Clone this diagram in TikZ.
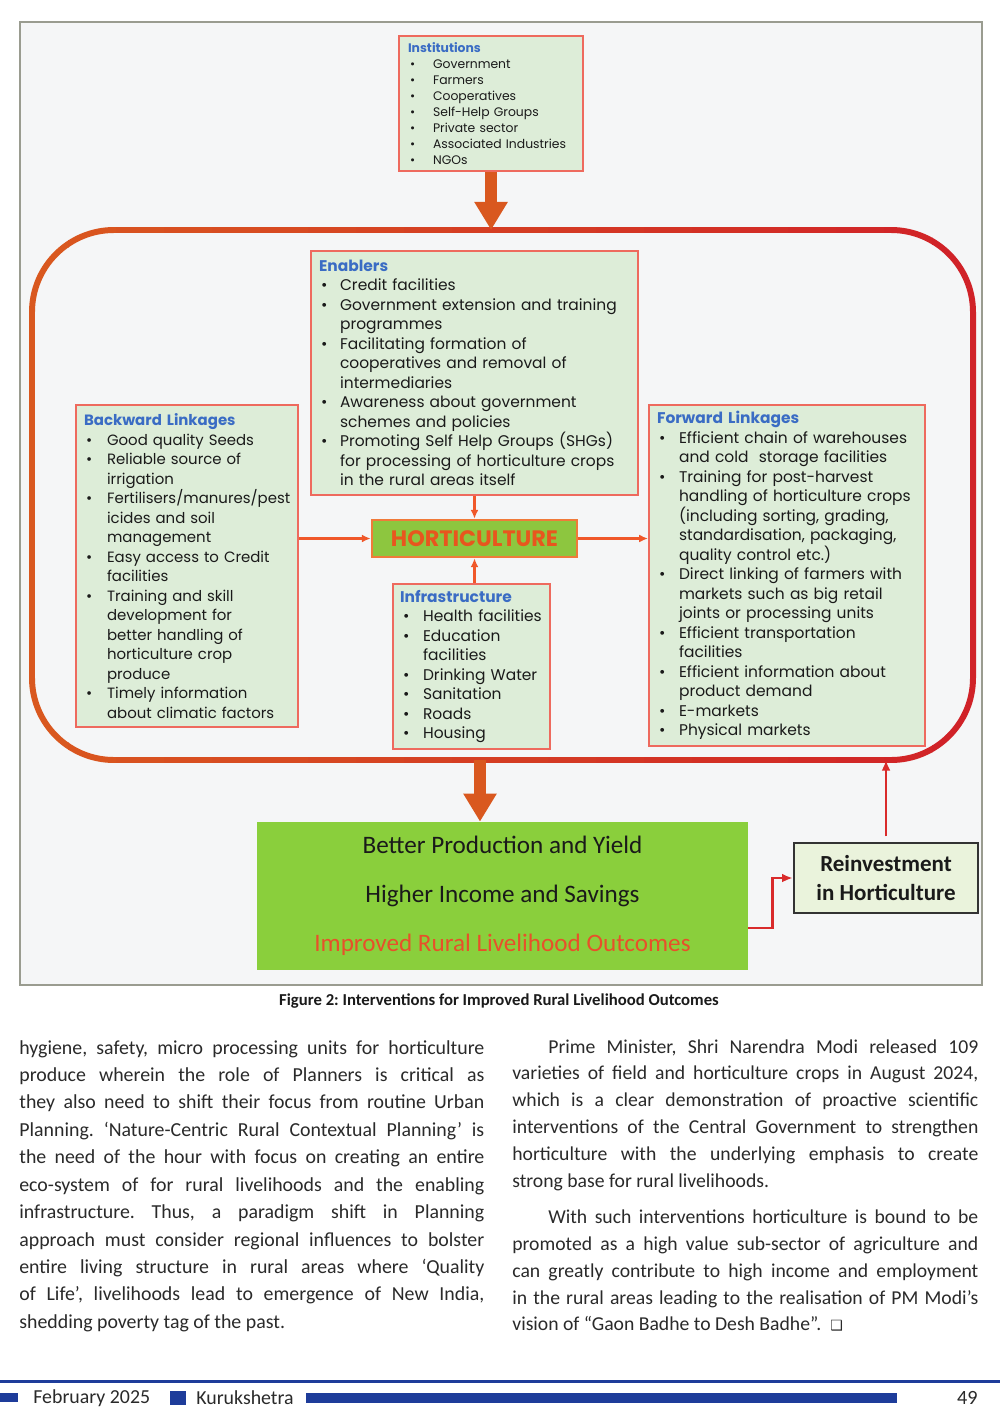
\documentclass[tikz,border=0pt]{standalone}
\usepackage{fontspec}
\setmainfont{Carlito}
\newfontfamily\gothic{Poppins}
\newfontfamily\symfont{DejaVu Sans}
\usetikzlibrary{arrows.meta, positioning}

\definecolor{boxfill}{HTML}{DDEDD8}
\definecolor{boxline}{HTML}{EE6A5E}
\definecolor{titleblue}{HTML}{3A6CC4}
\definecolor{ringorange}{HTML}{D9581F}
\definecolor{ringred}{HTML}{D01F28}
\definecolor{hortgreen}{HTML}{8DC63F}
\definecolor{hortline}{HTML}{F07A3A}
\definecolor{hortext}{HTML}{E8561E}
\definecolor{outgreen}{HTML}{8ACF3C}
\definecolor{outred}{HTML}{E8502A}
\definecolor{linkred}{HTML}{F0582A}
\definecolor{backred}{HTML}{D92B2B}
\definecolor{reinvfill}{HTML}{EAF3DC}
\definecolor{framefill}{HTML}{F5F6F7}
\definecolor{framegray}{HTML}{9A9C90}
\definecolor{footblue}{HTML}{1E3C9A}
\definecolor{textblack}{HTML}{1A1A1A}
\definecolor{textgray}{HTML}{2A2A2A}

\newlength\px
\setlength\px{0.2mm}
\newlength\itmhang
\newlength\itmbul
\newcommand\itm{\par\hangindent=\itmhang\hangafter=1\noindent\makebox[\itmhang][l]{\hspace{\itmbul}\textbullet}\ignorespaces}
\newcommand\boxtitle[1]{\textcolor{titleblue}{\bfseries #1}}

\begin{document}
\frenchspacing
\begin{tikzpicture}[x=0.2mm, y=-0.2mm,
    box/.style={draw=boxline, fill=boxfill, line width=1.2pt, anchor=north west, align=left,
        inner xsep=8\px, inner ysep=0pt, text=textblack,
        font=\gothic\fontsize{8.8}{11.1}\selectfont,
        execute at begin node={\setlength\itmhang{21\px}\setlength\itmbul{2\px}}},
    link/.style={-{Latex[length=5pt,width=4.5pt]}, draw=linkred, line width=1.3pt},
    backlink/.style={-{Latex[length=6pt,width=5pt]}, draw=backred, line width=1.4pt},
    fat/.style={-{Triangle[length=16pt,width=18pt]}, draw=ringorange, line width=6.8pt},
    body/.style={anchor=north west, inner sep=0, align=justify, text=textgray}
]

\useasboundingbox (0,0) rectangle (1000,1422);
\fill[white] (0,0) rectangle (1000,1422);
\draw[framegray, fill=framefill, line width=1.2pt] (20,22) rectangle (982,985);

% ring round the linkages
\node[minimum width=941\px, minimum height=530\px, inner sep=0, outer sep=0] (ring) at (502.5,495) {};
\foreach \i in {0,...,19}{
  \pgfmathtruncatemacro\mix{100-5*\i}
  \begin{scope}
    \clip (20+48*\i,200) rectangle (69+48*\i,800);
    \draw[draw=ringorange!\mix!ringred, line width=3.4pt, rounded corners=82\px]
      (ring.north west) rectangle (ring.south east);
  \end{scope}
}

\node[box, text width=166\px, inner xsep=9\px, minimum height=135\px,
  font=\gothic\fontsize{7.05}{9.1}\selectfont,
  execute at begin node={\setlength\itmhang{25\px}}] (inst) at (398,35)
{\boxtitle{Institutions}
 \itm Government
 \itm Farmers
 \itm Cooperatives
 \itm Self-Help Groups
 \itm Private sector
 \itm Associated Industries
 \itm NGOs\par};

\node[box, text width=311\px, minimum height=244\px] (enab) at (310,250)
{\boxtitle{Enablers}
 \itm Credit facilities
 \itm Government extension and training\newline programmes
 \itm Facilitating formation of\newline cooperatives and removal of\newline intermediaries
 \itm Awareness about government\newline schemes and policies
 \itm Promoting Self Help Groups (SHGs)\newline for processing of horticulture crops\newline in the rural areas itself\par};

\node[box, text width=206\px, minimum height=322\px,
  font=\gothic\fontsize{8.5}{11.1}\selectfont,
  execute at begin node={\setlength\itmhang{23\px}}] (back) at (75,404)
{\boxtitle{Backward Linkages}
 \itm Good quality Seeds
 \itm Reliable source of\newline irrigation
 \itm Fertilisers/manures/pest\newline icides and soil\newline management
 \itm Easy access to Credit\newline facilities
 \itm Training and skill\newline development for\newline better handling of\newline horticulture crop\newline produce
 \itm Timely information\newline about climatic factors\par};

\node[box, text width=260\px, minimum height=341\px,
  execute at begin node={\setlength\itmhang{22\px}}] (fwd) at (648,404)
{\boxtitle{Forward Linkages}
 \itm Efficient chain of warehouses\newline and cold\ \ storage facilities
 \itm Training for post-harvest\newline handling of horticulture crops\newline (including sorting, grading,\newline standardisation, packaging,\newline quality control etc.)
 \itm Direct linking of farmers with\newline markets such as big retail\newline joints or processing units
 \itm Efficient transportation\newline facilities
 \itm Efficient information about\newline product demand
 \itm E-markets
 \itm Physical markets\par};

\node[box, text width=143\px, inner xsep=7\px, minimum height=165\px,
  execute at begin node={\setlength\itmhang{23\px}\setlength\itmbul{3\px}}] (infra) at (392,583)
{\boxtitle{Infrastructure}
 \itm Health facilities
 \itm Education\newline facilities
 \itm Drinking Water
 \itm Sanitation
 \itm Roads
 \itm Housing\par};

\node[draw=hortline, fill=hortgreen, line width=1.5pt, minimum width=205\px, minimum height=37\px,
  inner sep=0, font=\gothic\bfseries\fontsize{12.7}{13}\selectfont, text=hortext] (hort) at (474.5,538.5) {HORTICULTURE};

\node[fill=outgreen, minimum width=491\px, minimum height=148\px, inner sep=0, align=center,
  font=\fontsize{14.3}{27.9}\selectfont, text=textblack] (out) at (502.5,896)
{Better Production and Yield\\Higher Income and Savings\\\textcolor{outred}{Improved Rural Livelihood Outcomes}};

\node[draw=black!80, fill=reinvfill, line width=1.5pt, minimum width=184\px, minimum height=70\px,
  align=center, font=\bfseries\fontsize{13.1}{17}\selectfont, text=textblack] (reinv) at (886,878)
{Reinvestment\\in Horticulture};

\draw[fat] (inst.south) -- (inst.south |- ring.north);
\draw[fat] (480,0 |- ring.south) -- (480,0 |- out.north);
\draw[link] (enab.south -| hort.north) -- (hort.north);
\draw[link] (infra.north -| hort.south) -- (hort.south);
\draw[link] (back.east |- hort.west) -- (hort.west);
\draw[link] (hort.east) -- (hort.east -| fwd.west);
\draw[backlink] (out.east |- 0,928) -- ++(24,0) |- (reinv.west);
\draw[backlink, shorten <=3pt] (reinv.north) -- (reinv.north |- ring.south);

\node[font=\bfseries\fontsize{9.5}{11}\selectfont, text=textblack] (caption) at (499,1001)
{Figure 2: Interventions for Improved Rural Livelihood Outcomes};

\node[body, text width=465\px, font=\fontsize{11.3}{15.6}\selectfont] (leftcol) at (19,1040)
{hygiene, safety, micro processing units for horticulture\linebreak
produce wherein the role of Planners is critical as\linebreak
they also need to shift their focus from routine Urban\linebreak
Planning. ‘Nature-Centric Rural Contextual Planning’ is\linebreak
the need of the hour with focus on creating an entire\linebreak
eco-system of for rural livelihoods and the enabling\linebreak
infrastructure. Thus, a paradigm shift in Planning\linebreak
approach must consider regional influences to bolster\linebreak
entire living structure in rural areas where ‘Quality\linebreak
of Life’, livelihoods lead to emergence of New India,\linebreak
shedding poverty tag of the past.};

\node[body, text width=466\px, font=\fontsize{11.2}{15.3}\selectfont] (rightcol) at (512,1039)
{\hspace*{36\px}Prime Minister, Shri Narendra Modi released 109\linebreak
varieties of field and horticulture crops in August 2024,\linebreak
which is a clear demonstration of proactive scientific\linebreak
interventions of the Central Government to strengthen\linebreak
horticulture with the underlying emphasis to create\linebreak
strong base for rural livelihoods.\par\vspace{9\px}
\hspace*{36\px}With such interventions horticulture is bound to be\linebreak
promoted as a high value sub-sector of agriculture and\linebreak
can greatly contribute to high income and employment\linebreak
in the rural areas leading to the realisation of PM Modi’s\linebreak
vision of “Gaon Badhe to Desh Badhe”.\ \ {\symfont\fontsize{8}{10}\selectfont ❑}};

% footer
\fill[footblue] (0,1379.5) rectangle (1000,1382.5);
\fill[footblue] (0,1393) rectangle (18,1402);
\fill[footblue] (170,1391) rectangle (186,1405);
\fill[footblue] (306,1393) rectangle (897,1403);
\node[anchor=west, inner sep=0, font=\fontsize{11.3}{12}\selectfont, text=textgray] (month) at (33,1398) {February 2025};
\node[anchor=west, inner sep=0, font=\fontsize{11.3}{12}\selectfont, text=textgray] (mag) at (196,1398) {Kurukshetra};
\node[anchor=east, inner sep=0, font=\fontsize{11.5}{12}\selectfont, text=textgray] (pageno) at (978,1398) {49};

\end{tikzpicture}
\end{document}
